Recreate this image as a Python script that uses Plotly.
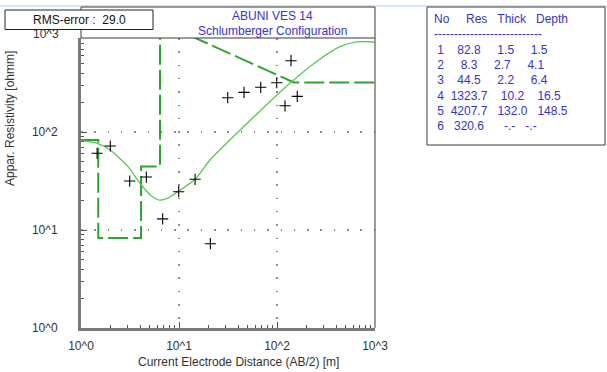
import plotly.graph_objects as go

# ---------------- data ----------------
# field measurements (AB/2 [m], apparent resistivity [ohm m])
ab2 = [1.46, 1.99, 3.14, 4.64, 6.81, 9.93, 14.6, 20.9, 31.4, 46.1, 68.2, 99.3, 120.7, 139, 161]
rho_obs = [60.6, 72, 31.6, 34.7, 13.0, 24.6, 32.9, 7.25, 224, 254, 286, 318, 185, 534, 231]

# calculated (model) sounding curve
ab2_calc = [1.0, 1.46, 1.99, 3.02, 4.12, 5.2, 6.35, 7.8, 9.77, 14.6, 20.7, 37.3, 95.5, 141, 244, 439, 651, 889, 1000]
rho_calc = [81.5, 76.7, 65.5, 44.3, 28.8, 22.4, 20.2, 21.3, 24.6, 32.9, 51.8, 93.2, 229, 326, 510, 742, 829, 834, 822]

# layered model
layer_no = [1, 2, 3, 4, 5, 6]
layer_res = [82.8, 8.3, 44.5, 1323.7, 4207.7, 320.6]
layer_thick = [1.5, 2.7, 2.2, 10.2, 132.0]
layer_depth = [1.5, 4.1, 6.4, 16.5, 148.5]

rms_error = 29.0
title_lines = ["ABUNI VES 14", "Schlumberger Configuration"]
xtick_vals = [1, 10, 100, 1000]
xtick_text = ["10^0", "10^1", "10^2", "10^3"]
ytick_vals = [1, 10, 100]
ytick_text = ["10^0", "10^1", "10^2"]
y_top_label = "10^3"

# ---------------- geometry helpers ----------------
W, H = 607, 372
L, R, T, B = 81, 375, 38, 328
X_MIN, X_MAX = 1.0, 1000.0
Y_LOG_MAX = (B - T) / 98.0  # ~2.96 decades shown


def px(x):
    return (x - L) / (R - L)


def py(y):
    return (B - y) / (B - T)


# model step line (software joins the excursion above the frame directly)
step_x = [X_MIN]
step_y = [layer_res[0]]
for i, d in enumerate(layer_depth):
    step_x += [d, d]
    step_y += [layer_res[i], layer_res[i + 1]]
step_x.append(X_MAX)
step_y.append(layer_res[-1])
ymax = 10 ** Y_LOG_MAX
mx, my = [], []
first_out_done = False
for xv, yv in zip(step_x, step_y):
    if yv > ymax:
        if not first_out_done:
            mx.append(xv); my.append(yv)
            first_out_done = True
        continue
    mx.append(xv); my.append(yv)

FONT = "Liberation Sans, Arial, sans-serif"
BLUE = "#3535c8"
TXT = "#333333"

fig = go.Figure()
fig.add_trace(go.Scatter(x=mx, y=my, mode="lines",
                         line=dict(color="#2fa52f", width=2, dash="20px,5px"),
                         hoverinfo="skip", showlegend=False))
fig.add_trace(go.Scatter(x=ab2_calc, y=rho_calc, mode="lines", line_shape="spline",
                         line=dict(color="#55c855", width=1.3, smoothing=0.6),
                         showlegend=False))
fig.add_trace(go.Scatter(x=ab2, y=rho_obs, mode="markers",
                         marker=dict(symbol="cross-thin", size=8,
                                     line=dict(color="black", width=1.1)),
                         showlegend=False))

minor_vals = [m * 10 ** e for e in range(0, 3) for m in range(2, 10)]

fig.update_layout(
    width=W, height=H, autosize=False,
    margin=dict(l=L, r=W - R, t=T, b=H - B, pad=0, autoexpand=False),
    paper_bgcolor="white", plot_bgcolor="rgba(0,0,0,0)",
    font=dict(family=FONT, size=12, color=TXT),
    xaxis=dict(type="log", range=[0, 3], tickmode="array", tickvals=xtick_vals,
               ticktext=xtick_text, ticks="inside", ticklen=6, tickcolor="#555",
               showline=True, linecolor="#7a7a7a", linewidth=3,
               showgrid=True, gridcolor="#8a8a8a", gridwidth=1.5, griddash="1.5px,11.8px",
               zeroline=False, ticklabelstandoff=5, automargin=False,
               minor=dict(tickmode="array", tickvals=minor_vals, ticks="inside",
                          ticklen=3, tickcolor="#555", showgrid=False)),
    yaxis=dict(type="log", range=[0, Y_LOG_MAX], tickmode="array", tickvals=ytick_vals,
               ticktext=ytick_text, ticks="inside", ticklen=6, tickcolor="#555",
               showline=True, linecolor="#7a7a7a", linewidth=3,
               showgrid=True, gridcolor="#8a8a8a", gridwidth=1.5, griddash="1.5px,11.8px",
               zeroline=False, ticklabelstandoff=18, automargin=False,
               minor=dict(tickmode="array", tickvals=minor_vals, ticks="inside",
                          ticklen=3, tickcolor="#555", showgrid=False)),
    yaxis2=dict(type="log", range=[0, Y_LOG_MAX], overlaying="y", side="right",
                tickmode="array", tickvals=[10, 100], ticks="inside", ticklen=6,
                tickcolor="#555", showticklabels=False, showgrid=False,
                showline=False, zeroline=False, automargin=False),
)

shapes = []
line_dark = dict(color="#3a3a3a", width=1)
shapes.append(dict(type="line", xref="paper", yref="paper", x0=px(0), x1=px(W),
                   y0=py(6), y1=py(6), line=dict(color="#c9ddf2", width=1.5)))
shapes.append(dict(type="line", xref="paper", yref="paper", x0=px(L), x1=px(R),
                   y0=py(7), y1=py(7), line=line_dark))
shapes.append(dict(type="line", xref="paper", yref="paper", x0=px(R), x1=px(R),
                   y0=py(7), y1=py(B), line=line_dark))
shapes.append(dict(type="line", xref="paper", yref="paper", x0=px(L), x1=px(L),
                   y0=py(7), y1=py(T), line=line_dark))
shapes.append(dict(type="line", xref="paper", yref="paper", x0=px(L), x1=px(R),
                   y0=py(T), y1=py(T), line=line_dark))
shapes.append(dict(type="rect", xref="paper", yref="paper", x0=px(5), x1=px(153),
                   y0=py(10), y1=py(29.5), line=dict(color="#222", width=1),
                   fillcolor="white"))
shapes.append(dict(type="rect", xref="paper", yref="paper", x0=px(427), x1=px(605),
                   y0=py(7), y1=py(145), line=dict(color="#3a3a3a", width=1),
                   fillcolor="white"))

ann = []
ann.append(dict(xref="paper", yref="paper", x=px(79), y=py(20), text=f"RMS-error :  {rms_error:.1f}",
                showarrow=False, xanchor="center", yanchor="middle",
                font=dict(family=FONT, size=12, color="#111")))
ann.append(dict(xref="paper", yref="paper", x=px(272), y=py(16), text=title_lines[0],
                showarrow=False, xanchor="center", yanchor="middle",
                font=dict(family=FONT, size=12, color=BLUE)))
ann.append(dict(xref="paper", yref="paper", x=px(272), y=py(31), text=title_lines[1],
                showarrow=False, xanchor="center", yanchor="middle",
                font=dict(family=FONT, size=12, color=BLUE)))
ann.append(dict(xref="paper", yref="paper", x=px(61), y=py(34), text=y_top_label,
                showarrow=False, xanchor="right", yanchor="middle",
                font=dict(family=FONT, size=12, color=TXT)))
ann.append(dict(xref="paper", yref="paper", x=px(238), y=py(362), text="Current Electrode Distance (AB/2) [m]",
                showarrow=False, xanchor="center", yanchor="middle",
                font=dict(family=FONT, size=12, color=TXT)))
ann.append(dict(xref="paper", yref="paper", x=px(10), y=py(119), text="Appar. Resistivity [ohmm]",
                textangle=-90, showarrow=False, xanchor="center", yanchor="middle",
                font=dict(family=FONT, size=12, color=TXT)))

NB = "\u00a0"
def nb(s):
    return s.replace(" ", NB)

rows = ["No     Res   Thick   Depth", "-" * 27]
for i, n in enumerate(layer_no):
    if i < len(layer_thick):
        rows.append(f"{n:2d}{layer_res[i]:8.1f}{layer_thick[i]:8.1f}{layer_depth[i]:8.1f}")
    else:
        rows.append(f"{n:2d}{layer_res[i]:8.1f}      -.-   -.-")
row_y = [19, 34, 50, 65, 80, 96, 111, 126]
for r, yv in zip(rows, row_y):
    ann.append(dict(xref="paper", yref="paper", x=px(432), y=py(yv), text=nb(r),
                    showarrow=False, xanchor="left", yanchor="middle",
                    font=dict(family=FONT, size=12, color=BLUE)))

fig.update_layout(shapes=shapes, annotations=ann)
fig.write_html("out.html", config={"displayModeBar": False},
               post_script="document.body.style.margin='0';document.body.style.overflow='hidden';")
